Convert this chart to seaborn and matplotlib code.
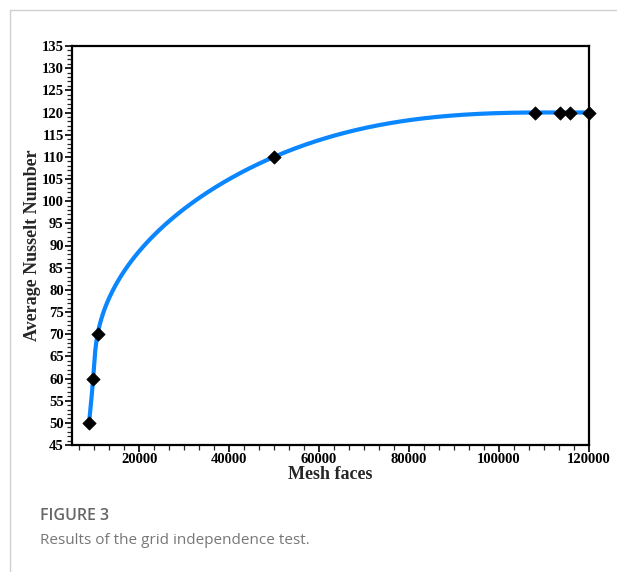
import numpy as np
import pandas as pd
import matplotlib
matplotlib.use("Agg")
import matplotlib.pyplot as plt
from matplotlib.ticker import AutoMinorLocator
from matplotlib.lines import Line2D
import seaborn as sns

# Data
mesh_faces = [8800, 9700, 10700, 50000, 108000, 113700, 115800, 120000]
nusselt = [50, 60, 70, 110, 120, 120, 120, 120]
x_ticks = [20000, 40000, 60000, 80000, 100000, 120000]
y_ticks = list(range(45, 136, 5))

# scale of one screen pixel in data units (for a parametric spline in screen space)
XR = 115100 / 517.0
YR = 90 / 399.0


def natural_spline(t, y, ts):
    t = np.asarray(t, float); y = np.asarray(y, float)
    n = len(t); h = np.diff(t)
    A = np.zeros((n, n)); b = np.zeros(n)
    A[0, 0] = 1; A[-1, -1] = 1
    for i in range(1, n - 1):
        A[i, i - 1] = h[i - 1]; A[i, i] = 2 * (h[i - 1] + h[i]); A[i, i + 1] = h[i]
        b[i] = 3 * ((y[i + 1] - y[i]) / h[i] - (y[i] - y[i - 1]) / h[i - 1])
    c = np.linalg.solve(A, b)
    out = np.empty_like(ts)
    for j, tv in enumerate(ts):
        i = min(max(np.searchsorted(t, tv) - 1, 0), n - 2)
        bi = (y[i + 1] - y[i]) / h[i] - h[i] * (2 * c[i] + c[i + 1]) / 3
        di = (c[i + 1] - c[i]) / (3 * h[i])
        dt = tv - t[i]
        out[j] = y[i] + bi * dt + c[i] * dt**2 + di * dt**3
    return out


px = np.array(mesh_faces) / XR
py = np.array(nusselt) / YR
s = np.concatenate([[0], np.cumsum(np.hypot(np.diff(px), np.diff(py)))])
ss = np.linspace(0, s[-1], 2000)
curve = pd.DataFrame({"x": natural_spline(s, px, ss) * XR,
                      "y": natural_spline(s, py, ss) * YR})
pts = pd.DataFrame({"x": mesh_faces, "y": nusselt})

sns.set_style("ticks")
plt.rcParams["font.family"] = ["Liberation Serif", "DejaVu Serif"]

fig = plt.figure(figsize=(6.17, 5.72), dpi=100)
ax = fig.add_axes([72 / 617, 1 - 445 / 572, (589 - 72) / 617, (445 - 46) / 572])

sns.lineplot(data=curve, x="x", y="y", ax=ax, color="#0a86ff", linewidth=3.0,
             sort=False, estimator=None)
sns.scatterplot(data=pts, x="x", y="y", ax=ax, marker="D", color="black", s=46,
                edgecolor="black", linewidth=0.5, zorder=5, clip_on=False)

ax.set_xlim(5000, 120100)
ax.set_ylim(45, 135)
ax.set_xticks(x_ticks)
ax.set_xticklabels([str(v) for v in x_ticks])
ax.set_yticks(y_ticks)
ax.set_yticklabels([str(v) for v in y_ticks])
ax.xaxis.set_minor_locator(AutoMinorLocator(6))
ax.yaxis.set_minor_locator(AutoMinorLocator(5))
ax.tick_params(axis="both", which="major", direction="out", length=5, width=1.2,
               labelsize=10.5, pad=1, colors="black")
ax.tick_params(axis="both", which="minor", direction="out", length=3.5, width=0.9)
for lab in ax.get_xticklabels() + ax.get_yticklabels():
    lab.set_fontweight("bold")

for sp in ax.spines.values():
    sp.set_visible(True)
    sp.set_linewidth(1.6)
    sp.set_color("black")

ax.set_xlabel("Mesh faces", fontsize=13, fontweight="bold", labelpad=0)
ax.set_ylabel("Average Nusselt Number", fontsize=13, fontweight="bold", labelpad=0.5)

# frame lines of the figure panel
fig.add_artist(Line2D([10 / 617, 10 / 617], [0, 1 - 10 / 572], transform=fig.transFigure,
                      color="#d0d0d0", linewidth=1))
fig.add_artist(Line2D([10 / 617, 1], [1 - 10 / 572, 1 - 10 / 572], transform=fig.transFigure,
                      color="#d0d0d0", linewidth=1))

fig.text(40 / 617, 1 - 516 / 572, "FIGURE 3", fontsize=11.5, color="#666666",
         family=["Open Sans", "DejaVu Sans"], fontweight="semibold", va="center")
fig.text(40 / 617, 1 - 540 / 572, "Results of the grid independence test.", fontsize=11,
         color="#777777", family=["Open Sans", "DejaVu Sans"], va="center")

fig.savefig("out.png", dpi=100)
